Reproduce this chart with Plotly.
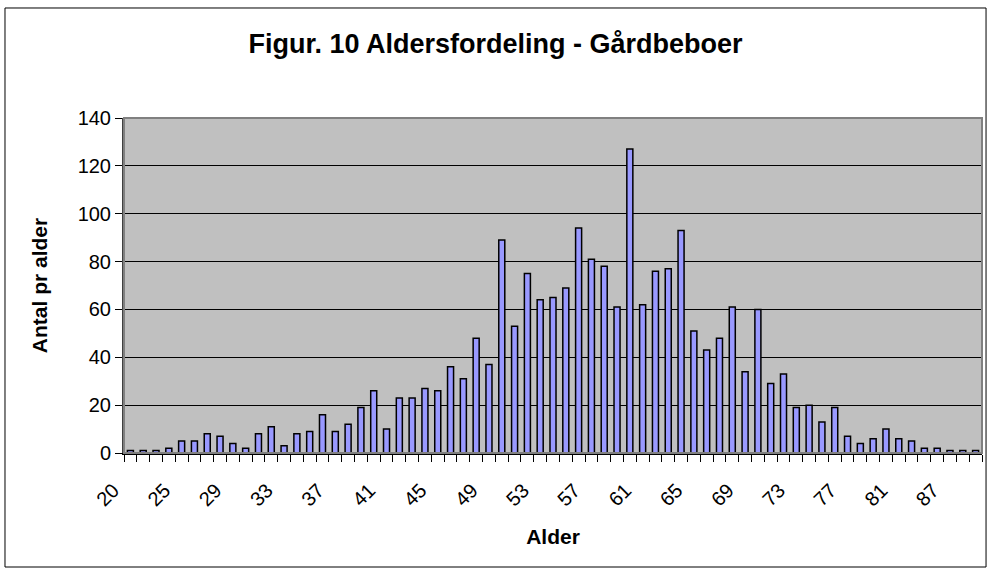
import plotly.graph_objects as go

# Alder (kategorier) og antal pr alder
ages = [20, 22, 23, 24, 25, 26, 27, 28, 29, 30, 31, 32, 33, 34, 35, 36, 37,
        38, 39, 40, 41, 42, 43, 44, 45, 46, 47, 48, 49, 50, 51, 52, 53, 54,
        55, 56, 57, 58, 59, 60, 61, 62, 63, 64, 65, 66, 67, 68, 69, 70, 71,
        72, 73, 74, 75, 76, 77, 78, 79, 80, 81, 82, 83, 84, 87, 88, 89]
counts = [1, 1, 1, 2, 5, 5, 8, 7, 4, 2, 8, 11, 3, 8, 9, 16, 9, 12, 19, 26,
          10, 23, 23, 27, 26, 36, 31, 48, 37, 89, 53, 75, 64, 65, 69, 94, 81,
          78, 61, 127, 62, 76, 77, 93, 51, 43, 48, 61, 34, 60, 29, 33, 19, 20,
          13, 19, 7, 4, 6, 10, 6, 5, 2, 2, 1, 1, 1]
tick_labels = ["20", "25", "29", "33", "37", "41", "45", "49", "53", "57",
               "61", "65", "69", "73", "77", "81", "87"]

cats = [str(a) for a in ages]
ticktext = [c if c in tick_labels else "" for c in cats]

FONT = "Liberation Sans, Arial, sans-serif"

fig = go.Figure(go.Bar(
    x=cats, y=counts,
    marker=dict(color="#9999FF", line=dict(color="black", width=1.5)),
))

# outer chart frame + plot-area border
fig.add_shape(type="rect", xref="paper", yref="paper",
              x0=-0.1387, x1=1.0047, y0=-0.3403, y1=1.3284,
              line=dict(color="black", width=1), layer="below")
fig.add_shape(type="rect", xref="paper", yref="paper",
              x0=0, x1=1, y0=0, y1=1,
              line=dict(color="#808080", width=2), layer="above")

fig.update_layout(
    width=991, height=572,
    margin=dict(l=124, r=9, t=118, b=119, autoexpand=False),
    paper_bgcolor="white", plot_bgcolor="#C0C0C0",
    font=dict(family=FONT, color="black", size=20),
    bargap=0.53, showlegend=False,
    title=dict(text="<b>Figur. 10 Aldersfordeling - Gårdbeboer</b>",
               x=0.5, xref="container", y=1 - 44 / 572, yref="container",
               xanchor="center", yanchor="middle",
               font=dict(size=27, family=FONT)),
)

fig.update_xaxes(
    type="category", tickvals=cats, ticktext=ticktext,
    tickson="boundaries", ticks="outside", ticklen=7, tickcolor="black",
    tickangle=-45, ticklabelstandoff=16, ticklabelshift=-17,
    showgrid=False, showline=True, linecolor="black", linewidth=1.5,
    tickfont=dict(size=20),
    title=dict(text="<b>Alder</b>", font=dict(size=21), standoff=20),
    automargin=False,
)
fig.update_yaxes(
    range=[0, 140], dtick=20, ticks="outside", ticklen=7, tickcolor="black",
    showgrid=True, gridcolor="black", gridwidth=1,
    showline=True, linecolor="#404040", linewidth=2,
    tickfont=dict(size=20),
    title=dict(text="<b>Antal pr alder</b>", font=dict(size=21), standoff=24),
    zeroline=False, automargin=False,
)

# the page body has an 8px default margin; drop it so the chart sits at 0,0
fig.write_html("out.html", config={"displayModeBar": False},
               post_script="document.body.style.margin='0';")
